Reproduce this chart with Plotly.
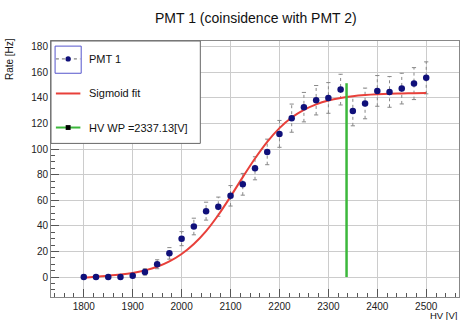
import plotly.graph_objects as go

hv = [1800, 1825, 1850, 1875, 1900, 1925, 1950, 1975, 2000, 2025, 2050, 2075, 2100,
      2125, 2150, 2175, 2200, 2225, 2250, 2275, 2300, 2325, 2350, 2375, 2400, 2425,
      2450, 2475, 2500]
rate = [0, 0, 0, 0, 1, 4, 10, 18.5, 30, 39.5, 51.5, 55, 63.5,
        72.5, 85, 97.8, 111.9, 124.2, 132.8, 138.2, 140, 146.5, 129.7, 135.7, 145.5, 144.7,
        147.3, 151.2, 155.7]
rate_err = [0.5, 0.5, 0.5, 0.5, 1, 2.5, 3.5, 4.5, 5.5, 6.5, 7, 7.5, 8,
            8.5, 9, 10, 10.5, 11, 11.5, 11.5, 12, 12, 11.5, 12, 12, 12,
            12, 12.5, 12.5]
fit_vals = [-0.5, 0.3, 1.0, 1.9, 3.2, 5.2, 8.0, 12.2, 18.0, 25.8, 35.9, 48.5, 62.9,
            78.1, 92.7, 105.7, 116.4, 124.7, 130.7, 135.0, 138.0, 140.0, 141.4, 142.3, 142.9, 143.3,
            143.5, 143.7, 143.8]
hv_wp = 2337.13
wp_top = 151.5

fig = go.Figure()

# dotted error bars
ex, ey = [], []
cx, cy = [], []
for x, y, e in zip(hv, rate, rate_err):
    ex += [x, x, None]
    ey += [y - e, y + e, None]
    cx += [x, x]
    cy += [y - e, y + e]
fig.add_trace(go.Scatter(x=ex, y=ey, mode="lines", line=dict(color="#888888", width=1, dash="dot"),
                         hoverinfo="skip", showlegend=False))
fig.add_trace(go.Scatter(x=cx, y=cy, mode="markers", marker=dict(symbol="line-ew", size=3,
                         line=dict(color="#888888", width=1)), hoverinfo="skip", showlegend=False))

fig.add_trace(go.Scatter(x=hv, y=fit_vals, mode="lines", line=dict(color="#e8403a", width=2, shape="spline"),
                         showlegend=False))
fig.add_trace(go.Scatter(x=hv, y=rate, mode="markers", marker=dict(color="#10107a", size=6.5),
                         showlegend=False))
fig.add_trace(go.Scatter(x=[hv_wp, hv_wp], y=[0, wp_top], mode="lines",
                         line=dict(color="#3cb83c", width=2.5), showlegend=False))

# legend built manually in paper coords (shapes drawn in order, above the data)
leg_y = [0.93, 0.795, 0.662]
sx0, sx1, sxm = 0.012, 0.072, 0.042
shapes = [
    dict(type="rect", xref="paper", yref="paper", x0=0, x1=0.366, y0=0.6, y1=1,
         fillcolor="white", line=dict(color="#666666", width=1), layer="above"),
    dict(type="rect", xref="paper", yref="paper", x0=0.01, x1=0.074, y0=0.874, y1=0.98,
         fillcolor="rgba(0,0,0,0)", line=dict(color="#5555cc", width=1), layer="above"),
    dict(type="line", xref="paper", yref="paper", x0=sx0, x1=sx1, y0=leg_y[0], y1=leg_y[0],
         line=dict(color="#666666", width=1, dash="dot"), layer="above"),
    dict(type="circle", xref="paper", yref="paper", x0=sxm - 0.0065, x1=sxm + 0.0065,
         y0=leg_y[0] - 0.0105, y1=leg_y[0] + 0.0105, fillcolor="#10107a",
         line=dict(color="#10107a", width=0), layer="above"),
    dict(type="line", xref="paper", yref="paper", x0=sx0, x1=sx1, y0=leg_y[1], y1=leg_y[1],
         line=dict(color="#e8403a", width=2), layer="above"),
    dict(type="line", xref="paper", yref="paper", x0=sx0, x1=sx1, y0=leg_y[2], y1=leg_y[2],
         line=dict(color="#3cb83c", width=2), layer="above"),
    dict(type="rect", xref="paper", yref="paper", x0=sxm - 0.006, x1=sxm + 0.006,
         y0=leg_y[2] - 0.0095, y1=leg_y[2] + 0.0095, fillcolor="black",
         line=dict(color="black", width=0), layer="above"),
]

labels = ["PMT 1", "Sigmoid fit", f"HV WP ={hv_wp:.2f}[V]"]
ann = []
for t, yy in zip(labels, leg_y):
    ann.append(dict(text=t, xref="paper", yref="paper", x=0.088, y=yy, xanchor="left", yanchor="middle",
                    showarrow=False, font=dict(size=11, color="#111111")))
ann.append(dict(text="HV [V]", xref="paper", yref="paper", x=1.0, y=-0.0705, xanchor="right", yanchor="middle",
                showarrow=False, font=dict(size=9.5, color="#111111")))
ann.append(dict(text="Rate [Hz]", xref="paper", yref="paper", x=-0.1, y=1.02, xanchor="center", yanchor="top",
                textangle=-90, showarrow=False, font=dict(size=10, color="#111111")))

fig.update_layout(
    width=461, height=320,
    margin=dict(l=51, r=2, t=41, b=23),
    paper_bgcolor="white", plot_bgcolor="white",
    font=dict(family="Liberation Sans, Arial, sans-serif", color="#222222"),
    title=dict(text="PMT 1 (coinsidence with PMT 2)", x=0.555, xanchor="center", y=0.945, yanchor="middle",
               font=dict(size=14, color="#111111")),
    annotations=ann,
    shapes=shapes,
    xaxis=dict(range=[1733, 2567], tickmode="array", tickvals=list(range(1800, 2501, 100)),
               showgrid=True, gridcolor="#cccccc", gridwidth=1, zeroline=False,
               ticks="inside", ticklen=8, tickcolor="#555555", showline=True, linecolor="#888888", mirror=True,
               minor=dict(dtick=20, ticks="inside", ticklen=4, tickcolor="#555555", showgrid=False),
               tickfont=dict(size=10, color="#222222")),
    yaxis=dict(range=[-15.6, 184.5], tickmode="array", tickvals=list(range(0, 181, 20)),
               showgrid=True, gridcolor="#cccccc", gridwidth=1, zeroline=False,
               ticks="inside", ticklen=8, tickcolor="#555555", showline=True, linecolor="#888888", mirror=True,
               minor=dict(dtick=5, ticks="inside", ticklen=4, tickcolor="#555555", showgrid=False),
               tickfont=dict(size=10, color="#222222")),
)

fig.write_html("out.html")
